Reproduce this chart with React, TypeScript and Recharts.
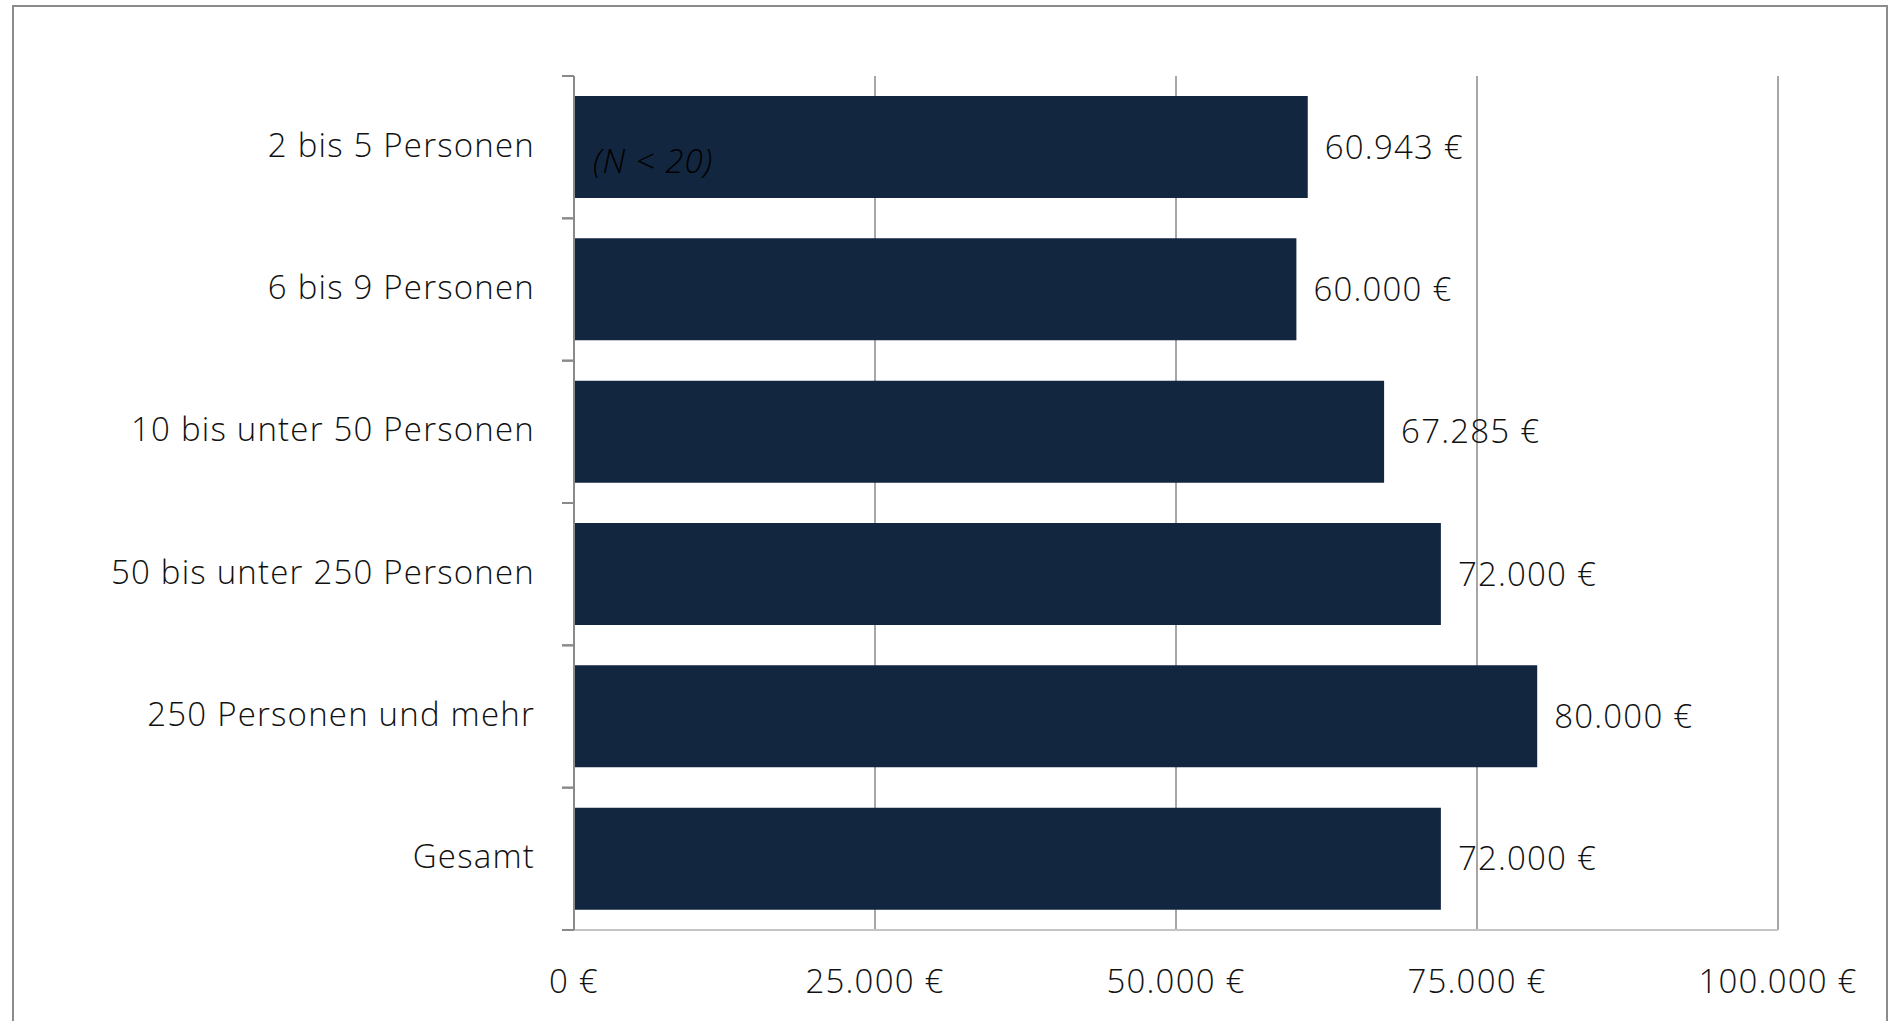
import { BarChart, Bar, XAxis, YAxis, CartesianGrid, LabelList } from "recharts";

const categories = [
  "2 bis 5 Personen",
  "6 bis 9 Personen",
  "10 bis unter 50 Personen",
  "50 bis unter 250 Personen",
  "250 Personen und mehr",
  "Gesamt",
];
const values = [60943, 60000, 67285, 72000, 80000, 72000];
const notes = ["(N < 20)", "", "", "", "", ""];
const xTicks = [0, 25000, 50000, 75000, 100000];

const data = categories.map((name, i) => ({ name, value: values[i], note: notes[i] }));

const FONT = "'Open Sans', Lato, sans-serif";
const BAR = "#13263f";
const AXIS = "#8a8a8a";
const textStyle = { fontFamily: FONT, fontWeight: 300, fontSize: 33, fill: "#111", letterSpacing: 1.2 };

const euro = (v: number) => `${String(Math.round(v)).replace(/\B(?=(\d{3})+(?!\d))/g, ".")} €`;

// category label plus the short marks at the band edges
const CategoryTick = (props: any) => {
  const { x, y, payload } = props;
  const half = payload?.offset ?? 0;
  const axisX = x + 39;
  return (
    <g>
      <line x1={axisX - 12} x2={axisX} y1={y - half} y2={y - half} stroke={AXIS} strokeWidth={2} />
      <line x1={axisX - 12} x2={axisX} y1={y + half} y2={y + half} stroke={AXIS} strokeWidth={2} />
      <text x={x} y={y - 3} textAnchor="end" dominantBaseline="central" style={textStyle}>
        {payload.value}
      </text>
    </g>
  );
};

const NoteLabel = (props: any) => {
  const { x, y, height, value } = props;
  if (!value) return null;
  return (
    <text
      x={x + 19}
      y={y + height * 0.63}
      fontFamily={FONT}
      fontWeight={300}
      fontStyle="italic"
      fontSize={33}
      letterSpacing={1}
      fill="#000"
      dominantBaseline="central"
    >
      {value}
    </text>
  );
};

export default function App() {
  return (
    <div style={{ position: "fixed", left: 0, top: 0, width: 1890, height: 1021, overflow: "hidden", background: "#fff" }}>
      <div
        style={{
          position: "absolute",
          left: 12,
          top: 5,
          width: 1872,
          height: 1030,
          border: "2px solid #8c8c8c",
        }}
      />
      <div style={{ position: "absolute", left: 0, top: 0 }}>
        <BarChart
          width={1890}
          height={1021}
          data={data}
          layout="vertical"
          margin={{ top: 76, right: 112, bottom: 0, left: 0 }}
        >
          <CartesianGrid horizontal={false} stroke={AXIS} strokeWidth={1.5} />
          <XAxis
            type="number"
            domain={[0, 100000]}
            ticks={xTicks}
            tickFormatter={euro}
            height={91}
            tickLine={false}
            tickSize={0}
            tickMargin={40}
            axisLine={{ stroke: "#c4c4c4", strokeWidth: 2 }}
            tick={textStyle}
          />
          <XAxis
            xAxisId="top"
            orientation="top"
            type="number"
            domain={[0, 100000]}
            height={0}
            tick={false}
            tickLine={false}
            axisLine={{ stroke: "#c4c4c4", strokeWidth: 2 }}
          />
          <YAxis
            type="category"
            dataKey="name"
            width={574}
            axisLine={{ stroke: AXIS, strokeWidth: 2 }}
            tickLine={false}
            tickSize={12}
            tickMargin={27}
            interval={0}
            tick={<CategoryTick />}
          />
          <Bar dataKey="value" fill={BAR} barSize={102} isAnimationActive={false}>
            <LabelList
              dataKey="value"
              position="right"
              offset={17}
              formatter={(v: any) => euro(Number(v))}
              style={textStyle}
            />
            <LabelList dataKey="note" content={NoteLabel} />
          </Bar>
        </BarChart>
      </div>
    </div>
  );
}
